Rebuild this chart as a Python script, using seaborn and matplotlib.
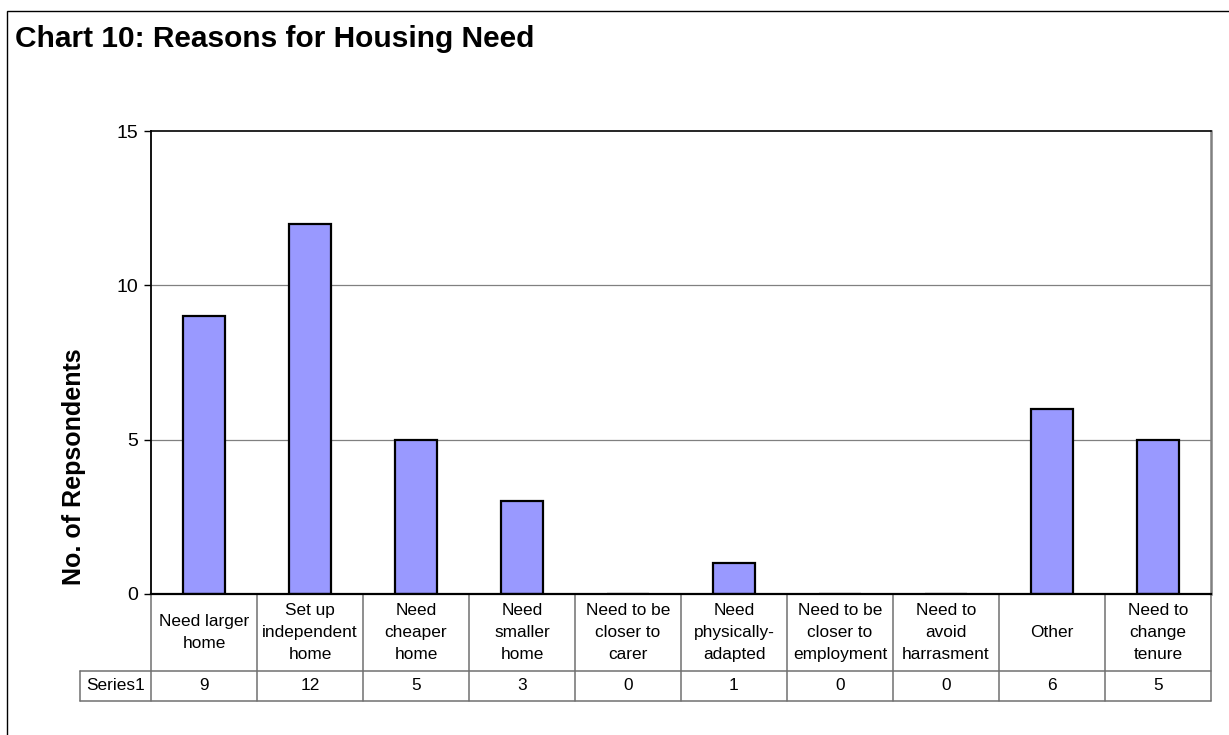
import numpy as np
import pandas as pd
import matplotlib
matplotlib.use("Agg")
import matplotlib.pyplot as plt
import seaborn as sns
from matplotlib.lines import Line2D
from matplotlib.patches import Rectangle

# data
categories = ["Need larger home", "Set up independent home", "Need cheaper home",
              "Need smaller home", "Need to be closer to carer", "Need physically-adapted",
              "Need to be closer to employment", "Need to avoid harrasment", "Other",
              "Need to change tenure"]
table_labels = ["Need larger\nhome", "Set up\nindependent\nhome", "Need\ncheaper\nhome",
                "Need\nsmaller\nhome", "Need to be\ncloser to\ncarer", "Need\nphysically-\nadapted",
                "Need to be\ncloser to\nemployment", "Need to\navoid\nharrasment", "Other",
                "Need to\nchange\ntenure"]
series_name = "Series1"
values = [9, 12, 5, 3, 0, 1, 0, 0, 6, 5]
yticks = [0, 5, 10, 15]

sns.set_style("white")
plt.rcParams['font.family'] = ['Liberation Sans', 'DejaVu Sans']
plt.rcParams['text.color'] = 'black'
plt.rcParams['ytick.color'] = 'black'
plt.rcParams['xtick.color'] = 'black'
plt.rcParams['axes.labelcolor'] = 'black'

W, H = 1229, 735
fig = plt.figure(figsize=(W / 100, H / 100), dpi=100)
fig.patch.set_facecolor("white")

# plot area in pixels
px_l, px_r, px_t, px_b = 151, 1211, 131, 594
ax = fig.add_axes([px_l / W, (H - px_b) / H, (px_r - px_l) / W, (px_b - px_t) / H])

df = pd.DataFrame({"cat": categories, "val": values})
sns.barplot(data=df, x="cat", y="val", color="#9999FF", saturation=1,
            edgecolor="black", linewidth=1.6, width=0.4, ax=ax, zorder=3)

ax.set_ylim(0, 15)
ax.set_xlim(-0.5, len(categories) - 0.5)
ax.set_yticks(yticks)
ax.set_yticklabels([str(t) for t in yticks], fontsize=14, color="black")
ax.set_xticks([])
ax.set_xlabel("")
ax.set_ylabel("")
ax.tick_params(axis="y", direction="out", length=5, width=1, color="black", pad=4, left=True)
for t in yticks[1:-1]:
    ax.axhline(t, color="#808080", lw=0.9, zorder=1)
ax.spines["left"].set_color("black")
ax.spines["left"].set_linewidth(1.3)
ax.spines["bottom"].set_color("black")
ax.spines["bottom"].set_linewidth(1.6)
ax.spines["bottom"].set_zorder(4)
ax.spines["top"].set_color("black")
ax.spines["top"].set_linewidth(1.2)
ax.spines["right"].set_color("#808080")
ax.spines["right"].set_linewidth(1.8)

# data table below the axis
ah = px_b - px_t
r1 = -(671 - px_b) / ah
r2 = -(701 - px_b) / ah
x_series = -0.5 - (px_l - 80) / ((px_r - px_l) / len(categories))
tr = ax.get_xaxis_transform()
gray = "#707070"
n = len(categories)
for i in range(n + 1):
    ax.add_line(Line2D([i - 0.5, i - 0.5], [0, r2], transform=tr, color=gray, lw=1.1, clip_on=False))
ax.add_line(Line2D([x_series, n - 0.5], [r1, r1], transform=tr, color=gray, lw=1.1, clip_on=False))
ax.add_line(Line2D([x_series, n - 0.5], [r2, r2], transform=tr, color=gray, lw=1.1, clip_on=False))
ax.add_line(Line2D([x_series, x_series], [r1, r2], transform=tr, color=gray, lw=1.1, clip_on=False))

for i, (lab, v) in enumerate(zip(table_labels, values)):
    ax.text(i, r1 / 2, lab, transform=tr, ha="center", va="center", fontsize=12.4,
            linespacing=1.55, clip_on=False)
    ax.text(i, (r1 + r2) / 2, str(v), transform=tr, ha="center", va="center", fontsize=12.4,
            clip_on=False)
ax.text((x_series - 0.5) / 2, (r1 + r2) / 2, series_name, transform=tr, ha="center",
        va="center", fontsize=12.4, clip_on=False)

# titles
fig.text(15 / W, 1 - 47 / H, "Chart 10: Reasons for Housing Need", fontsize=21.5,
         fontweight="bold", ha="left", va="baseline")
fig.text(74 / W, 1 - 467 / H, "No. of Repsondents", fontsize=18, fontweight="bold",
         rotation=90, ha="center", va="center")

# outer chart frame (runs off the right and bottom edge)
fig.add_artist(Rectangle((7 / W, -0.2), 1.5, 1.2 - 11 / H, transform=fig.transFigure,
                         fill=False, edgecolor="black", lw=1.0))

fig.savefig("out.png", dpi=100)
